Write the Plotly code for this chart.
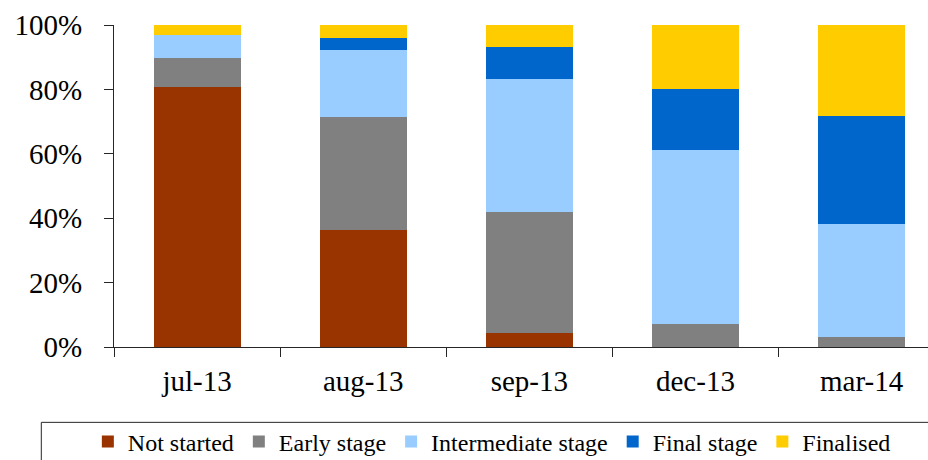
import plotly.graph_objects as go

categories = ["jul-13", "aug-13", "sep-13", "dec-13", "mar-14"]
not_started = [80.6, 36.4, 4.2, 0.0, 0.0]
early_stage = [9.2, 35.0, 37.7, 7.0, 3.2]
intermediate_stage = [7.1, 20.9, 41.2, 54.3, 34.9]
final_stage = [0.0, 3.8, 10.2, 18.7, 33.5]
finalised = [3.1, 3.9, 6.7, 20.0, 28.4]
y_ticks = [0, 20, 40, 60, 80, 100]
y_tick_labels = ["0%", "20%", "40%", "60%", "80%", "100%"]

series = [
    ("Not started", not_started, "#993300"),
    ("Early stage", early_stage, "#808080"),
    ("Intermediate stage", intermediate_stage, "#99CCFF"),
    ("Final stage", final_stage, "#0066CC"),
    ("Finalised", finalised, "#FFCC00"),
]

FONT = "Liberation Serif"

fig = go.Figure()
for name, vals, color in series:
    fig.add_trace(go.Bar(
        name=name, x=categories, y=vals, width=0.524,
        marker=dict(color=color, line=dict(width=0)),
    ))

fig.update_layout(
    barmode="stack",
    width=928, height=460,
    margin=dict(l=114, r=0, t=25, b=113, autoexpand=False),
    plot_bgcolor="white", paper_bgcolor="white",
    font=dict(family=FONT, color="black"),
    showlegend=True,
    legend=dict(
        orientation="h", xref="container", yref="container",
        x=0.53, xanchor="center", y=0.088, yanchor="top",
        font=dict(family=FONT, size=24, color="black"),
        bgcolor="rgba(0,0,0,0)", borderwidth=0,
        traceorder="normal",
    ),
    xaxis=dict(
        type="category", range=[-0.5, 4.4],
        showline=True, linecolor="#262626", linewidth=1,
        ticks="outside", ticklen=9, tickcolor="#262626", tickson="boundaries",
        tickfont=dict(family=FONT, size=29, color="black"),
        showgrid=False, zeroline=False,
        ticklabelstandoff=8,
    ),
    yaxis=dict(
        range=[0, 100], tickvals=y_ticks, ticktext=y_tick_labels,
        showline=True, linecolor="#262626", linewidth=1,
        ticks="outside", ticklen=9, tickcolor="#262626",
        tickfont=dict(family=FONT, size=29, color="black"),
        showgrid=False, zeroline=False,
        ticklabelstandoff=16,
    ),
    shapes=[dict(
        type="rect", xref="paper", yref="paper",
        x0=-0.0893, x1=1.1, y0=-0.234, y1=-0.5,
        line=dict(color="#262626", width=1), fillcolor="rgba(0,0,0,0)",
        layer="below",
    )],
)

fig.write_html("out.html")
